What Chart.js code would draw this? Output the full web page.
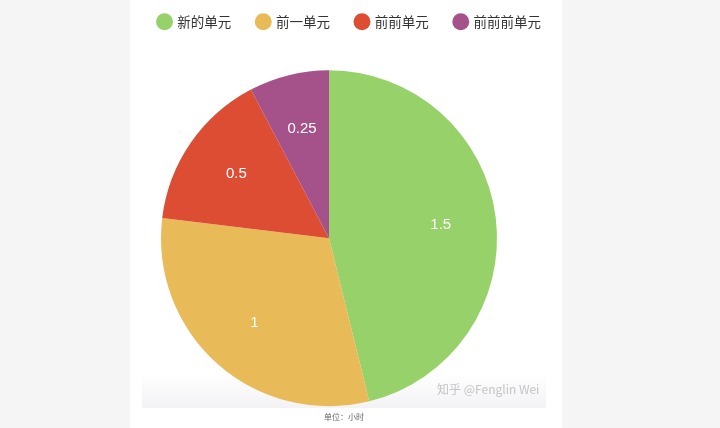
<!DOCTYPE html>
<html>
<head>
<meta charset="utf-8">
<script src="https://cdn.jsdelivr.net/npm/chart.js@4"></script>
<style>
  html, body { margin: 0; padding: 0; background: #f5f5f6; overflow: hidden; }
  #card { position: absolute; left: 130px; top: 0; width: 432px; height: 428px; background: #fff; }
  #band { position: absolute; left: 142px; top: 372px; width: 404px; height: 36px;
          background: linear-gradient(to bottom, rgba(246,246,248,0), #f3f3f6); }
  #wrap { position: absolute; left: 91px; top: -11px; width: 476px; height: 449px; }
  #mark { position: absolute; left: 437px; top: 380px; font: 12px "Noto Sans CJK SC", sans-serif; color: #c4c4c8; }
  #unit { position: absolute; left: 324px; top: 411px; font: 8px "Noto Sans CJK SC", sans-serif; color: #666; }
</style>
</head>
<body>
<div id="card"></div>
<div id="band"></div>
<div id="wrap"><canvas id="pie"></canvas></div>
<div id="mark">知乎 @Fenglin Wei</div>
<div id="unit">单位：小时</div>
<script>
const LABELS = ['新的单元', '前一单元', '前前单元', '前前前单元'];
const HOURS = [1.5, 1, 0.5, 0.25];
const COLORS = ['#97d16a', '#e8bb58', '#dc4d33', '#a5528a'];

// draw each value inside its slice
const sliceLabels = {
    id: 'sliceLabels',
    afterDatasetsDraw(chart) {
        const ctx = chart.ctx;
        const meta = chart.getDatasetMeta(0);
        ctx.save();
        ctx.fillStyle = '#fff';
        ctx.font = '15px "Liberation Sans", Arial, sans-serif';
        ctx.textAlign = 'center';
        ctx.textBaseline = 'middle';
        meta.data.forEach((arc, i) => {
            const p = arc.getProps(['x', 'y', 'startAngle', 'endAngle', 'outerRadius'], true);
            const mid = (p.startAngle + p.endAngle) / 2;
            const r = p.outerRadius * 0.67;
            ctx.fillText(String(HOURS[i]), p.x + Math.cos(mid) * r, p.y + Math.sin(mid) * r);
        });
        ctx.restore();
    }
};

new Chart(document.querySelector('#pie'), {
    type: 'pie',
    data: {
        labels: LABELS,
        datasets: [{
            data: HOURS,
            backgroundColor: COLORS,
            borderWidth: 0,
            radius: 168
        }]
    },
    options: {
        responsive: true,
        maintainAspectRatio: false,
        animation: false,
        layout: { padding: 0 },
        plugins: {
            tooltip: { enabled: false },
            legend: {
                position: 'top',
                align: 'end',
                labels: {
                    usePointStyle: true,
                    pointStyle: 'circle',
                    boxWidth: 12,
                    boxHeight: 12,
                    padding: 26,
                    color: '#333',
                    font: { size: 13.5, family: '"Noto Sans CJK SC", sans-serif' }
                }
            }
        }
    },
    plugins: [sliceLabels]
});
</script>
</body>
</html>
